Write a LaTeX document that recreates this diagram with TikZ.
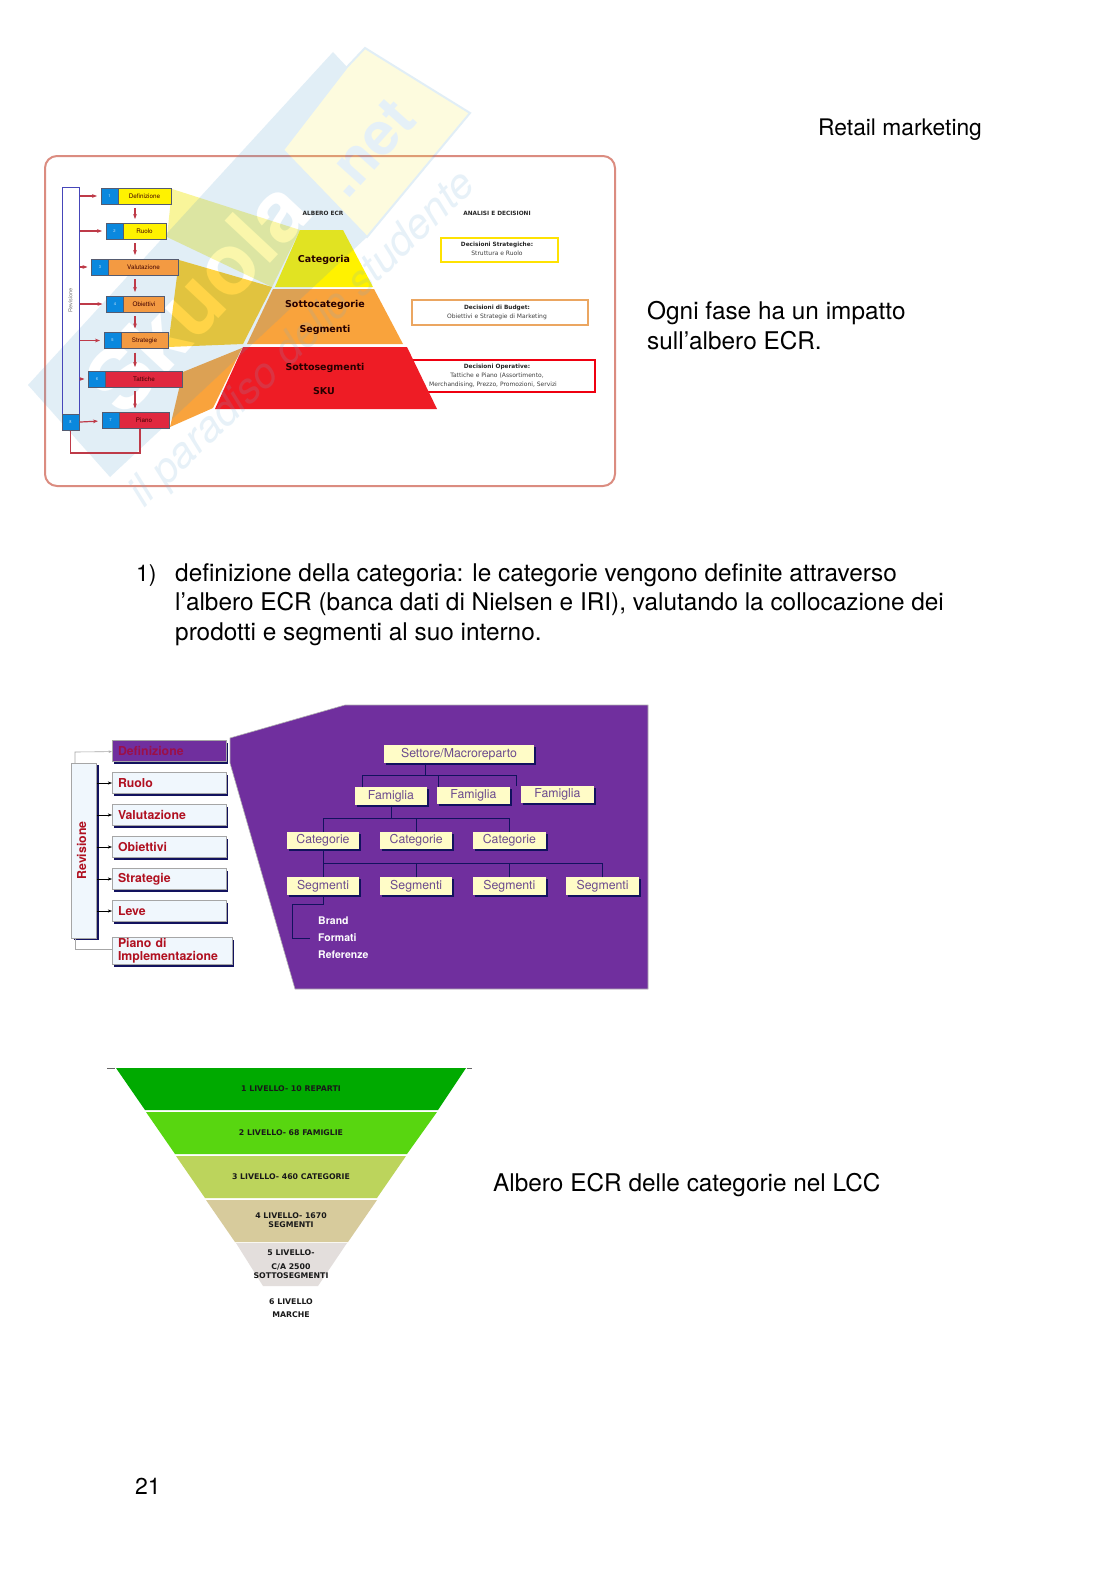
\documentclass[tikz,border=0pt]{standalone}
\usepackage{fontspec}
\usepackage{xcolor}
\usepackage{tikz}
\usetikzlibrary{positioning,arrows.meta,shadows}
\setmainfont{TeX Gyre Heros}
\newfontfamily\vrd{DejaVu Sans}
\definecolor{wmblue}{HTML}{4F9BCE}
\definecolor{wmyellow}{HTML}{F5EB3C}
\definecolor{framered}{HTML}{DB8C80}
\definecolor{stepblue}{HTML}{0A88DE}
\definecolor{stepline}{HTML}{555B70}
\definecolor{arrowred}{HTML}{BE3A48}
\definecolor{bandyellow}{HTML}{F9F59A}
\definecolor{bandgold}{HTML}{FFCC22}
\definecolor{catyellow}{HTML}{FFF200}
\definecolor{catorange}{HTML}{F9A33C}
\definecolor{catred}{HTML}{EE1C25}
\definecolor{steporange}{HTML}{F39A42}
\definecolor{stepred}{HTML}{E0283F}
\definecolor{purplebg}{HTML}{702F9E}
\definecolor{navyline}{HTML}{12125E}
\definecolor{labelred}{HTML}{B01020}
\definecolor{deflabel}{HTML}{9C1048}
\definecolor{treetext}{HTML}{6B4A8E}
\definecolor{boxpale}{HTML}{F0F7FD}
\definecolor{levela}{HTML}{00AA00}
\definecolor{levelb}{HTML}{58D610}
\definecolor{levelc}{HTML}{BCD45C}
\definecolor{leveld}{HTML}{D7CB9C}
\definecolor{levele}{HTML}{E3DEDC}

\begin{document}
\begin{tikzpicture}[
    x=1pt, y=-1pt,
    bodytext/.style={anchor=base west, inner sep=0pt, font=\fontsize{24.37}{29}\selectfont},
    stepnum/.style={rectangle, draw=stepline, line width=0.5pt, fill=stepblue, text=white!80!stepblue, outer sep=0pt, inner sep=0pt, minimum width=17pt, minimum height=16pt, font=\fontsize{4}{5}\selectfont},
    steplab/.style={rectangle, draw=stepline, line width=0.8pt, outer sep=0pt, inner sep=0pt, minimum height=16pt, text=black!75!red, font=\fontsize{6.3}{7}\selectfont},
    deci/.style={rectangle, line width=1.3pt, inner sep=0pt, fill=white},
    decitext/.style={inner sep=0pt, text=black!75, font=\vrd\fontsize{6}{7}\selectfont},
    decihead/.style={inner sep=0pt, text=black!85, font=\vrd\bfseries\fontsize{5.8}{7}\selectfont},
    pyrtext/.style={inner sep=0pt, text=black!85!red, font=\vrd\bfseries\fontsize{9.5}{11}\selectfont},
    redarrow/.style={-{Stealth[scale=0.6]}, arrowred, line width=1.2pt, shorten <=0.5pt, shorten >=4pt},
    downarrow/.style={-{Stealth[scale=0.6]}, arrowred, line width=1.2pt, shorten <=4pt, shorten >=4pt},
    phasebox/.style={rectangle, draw=black!35, line width=0.4pt, fill=boxpale, outer sep=0pt, inner sep=0pt, minimum width=114pt, minimum height=21pt, text width=102pt, align=left, text=labelred, font=\bfseries\fontsize{12.3}{13}\selectfont, drop shadow={shadow xshift=2pt, shadow yshift=-2pt, fill=navyline, opacity=1}},
    treebox/.style={rectangle, fill=yellow!22, outer sep=0pt, inner sep=0pt, minimum width=72.5pt, minimum height=17.5pt, text=treetext, font=\fontsize{12.3}{13}\selectfont, drop shadow={shadow xshift=2pt, shadow yshift=-2pt, fill=navyline, opacity=1}},
    treeline/.style={navyline, line width=0.6pt},
    phasearrow/.style={-{Stealth[scale=0.8]}, black, line width=0.5pt},
    subtext/.style={anchor=west, inner sep=0pt, text=white, font=\bfseries\fontsize{10.5}{11}\selectfont},
    leveltext/.style={inner sep=0pt, text=black!90, align=center, font=\vrd\bfseries\fontsize{7.8}{9.2}\selectfont}
]
\useasboundingbox (0,0) rectangle (1116,1579);
\fill[white] (0,0) rectangle (1116,1579);

% Page text
\node[bodytext, font=\fontsize{22.8}{29}\selectfont] (header) at (818,135) {Retail marketing};
\node[bodytext] (impact1) at (647,319) {Ogni fase ha un impatto};
\node[bodytext] (impact2) at (647,349) {sull’albero ECR.};
\node[bodytext, font=\fontsize{23}{29}\selectfont] (num) at (136,581) {1)};
\node[bodytext] (para1) at (175,581) {definizione della categoria: le categorie vengono definite attraverso};
\node[bodytext] (para2) at (175,610) {l’albero ECR (banca dati di Nielsen e IRI), valutando la collocazione dei};
\node[bodytext] (para3) at (175,640) {prodotti e segmenti al suo interno.};
\node[bodytext] (lcc) at (493,1191) {Albero ECR delle categorie nel LCC};
\node[bodytext, font=\fontsize{23}{29}\selectfont] (page) at (135,1494) {21};

% First figure: frame
\draw[framered, line width=2pt, rounded corners=12pt] (45,156) rectangle (615,486);

% Bands towards the pyramid
\fill[bandyellow] (172,189) -- (300,230) -- (272,287) -- (167,237) -- cycle;
\fill[bandgold] (179,260) -- (272,287) -- (243,344) -- (168,347) -- cycle;
\fill[catorange] (183,372) -- (242,348) -- (213,408) -- (170,427) -- cycle;

% Decisions
\node[deci, draw=yellow!85!orange, minimum width=117pt, minimum height=24pt] (d1) at (499.5,250) {};
\node[deci, draw=orange!55!brown!70, minimum width=176pt, minimum height=25pt] (d2) at (500,312.5) {};
\node[deci, draw=red!75!purple, minimum width=183pt, minimum height=32pt] (d3) at (503.5,376) {};

% Pyramid
\fill[catyellow] (300,230) -- (343,230) -- (373,287) -- (275,287) -- cycle;
\fill[catorange] (273,289) -- (374,289) -- (403,344) -- (247,344) -- cycle;
\fill[catred] (243,347) -- (407,347) -- (437,409) -- (215,409) -- cycle;

% Watermark
\begin{scope}[transparency group, opacity=0.17]
\fill[wmblue] (333,52) -- (28,385) -- (110,477) -- (367,237) -- (283,150) -- (347,67) -- cycle;
\node[inner sep=0pt, rotate=47, text=white, font=\bfseries\fontsize{85}{85}\selectfont] (wmname) at (197,296) {Skuola};
\fill[wmyellow, draw=wmblue, line width=2pt] (347,67) -- (365,48) -- (470,113) -- (367,237) -- (283,150) -- cycle;
\node[inner sep=0pt, rotate=48, text=wmblue!85!white, font=\bfseries\fontsize{60}{60}\selectfont] (wmnet) at (368,148) {.net};
\node[inner sep=0pt, rotate=44, text=wmblue!80!white, font=\itshape\fontsize{42}{42}\selectfont] (wmline) at (303,340) {il paradiso dello studente};
\end{scope}

% Phases
\node[rectangle, rotate=90, draw=blue!45!gray, line width=0.8pt, minimum width=227pt, minimum height=17pt, inner sep=0pt, outer sep=0pt, text=black!55, font=\fontsize{5.5}{6}\selectfont] (rev) at (70.5,300.5) {Revisione};
\node[stepnum] (n1) at (109.5,196) {1};
\node[steplab, fill=yellow, minimum width=53pt, right=0pt of n1] (s1) {Definizione};
\node[stepnum] (n2) at (114.5,231) {2};
\node[steplab, fill=yellow, minimum width=43pt, right=0pt of n2] (s2) {Ruolo};
\node[stepnum] (n3) at (100,267) {3};
\node[steplab, fill=steporange, minimum width=70pt, right=0pt of n3] (s3) {Valutazione};
\node[stepnum] (n4) at (115,304) {4};
\node[steplab, fill=steporange, minimum width=41pt, right=0pt of n4] (s4) {Obiettivi};
\node[stepnum] (n5) at (112.5,340.5) {5};
\node[steplab, fill=steporange, minimum width=47pt, right=0pt of n5] (s5) {Strategie};
\node[stepnum] (n6) at (97,379) {6};
\node[steplab, fill=stepred, minimum width=77pt, right=0pt of n6] (s6) {Tattiche};
\node[stepnum] (n7) at (110.5,420.5) {7};
\node[steplab, fill=stepred, minimum width=50pt, right=0pt of n7] (s7) {Piano};
\node[stepnum] (n8) at (70.5,422.5) {8};

\draw[redarrow] (rev.south |- n1) -- (n1);
\draw[redarrow] (rev.south |- n2) -- (n2);
\draw[redarrow] (rev.south |- n3) -- (n3);
\draw[redarrow] (rev.south |- n4) -- (n4);
\draw[redarrow] (rev.south |- n5) -- (n5);
\draw[redarrow] (rev.south |- n6) -- (n6);
\draw[redarrow] (n8) -- (n7);

\coordinate (dwn) at (135,300);
\draw[downarrow] (s1.south -| dwn) -- (s2.north -| dwn);
\draw[downarrow] (s2.south -| dwn) -- (s3.north -| dwn);
\draw[downarrow] (s3.south -| dwn) -- (s4.north -| dwn);
\draw[downarrow] (s4.south -| dwn) -- (s5.north -| dwn);
\draw[downarrow] (s5.south -| dwn) -- (s6.north -| dwn);
\draw[downarrow] (s6.south -| dwn) -- (s7.north -| dwn);

\coordinate (loop) at (140,453);
\draw[arrowred, line width=1.2pt] (n8.south) |- (loop) -- (loop |- s7.south);

% Labels of the first figure
\node[decihead] (tree) at (323,213) {ALBERO ECR};
\node[decihead] (analysis) at (497,213) {ANALISI E DECISIONI};
\node[pyrtext] (categoria) at (324,259.5) {Categoria};
\node[pyrtext] (sottocat) at (325,305) {Sottocategorie};
\node[pyrtext] (segm) at (325,330) {Segmenti};
\node[pyrtext] (sottoseg) at (325,367.5) {Sottosegmenti};
\node[pyrtext] (sku) at (324,391) {SKU};
\node[decihead] (d1a) at (497,245) {Decisioni Strategiche:};
\node[decitext] (d1b) at (497,253.5) {Struttura e Ruolo};
\node[decihead] (d2a) at (497,308) {Decisioni di Budget:};
\node[decitext] (d2b) at (497,316.5) {Obiettivi e Strategie di Marketing};
\node[decihead] (d3a) at (497,367) {Decisioni Operative:};
\node[decitext] (d3b) at (497,376) {Tattiche e Piano (Assortimento,};
\node[decitext] (d3c) at (493,384.5) {Merchandising, Prezzo, Promozioni, Servizi};

% Second figure
\fill[purplebg, draw=black!30, line width=0.6pt] (230,738) -- (345,705) -- (648,705) -- (648,989) -- (295,989) -- (230,763) -- cycle;

\node[rectangle, rotate=90, draw=black!35, line width=0.4pt, fill=boxpale, minimum width=175pt, minimum height=25pt, inner sep=0pt, outer sep=0pt, text=labelred, font=\bfseries\fontsize{12.3}{13}\selectfont, drop shadow={shadow xshift=2pt, shadow yshift=-2pt, fill=navyline, opacity=1}] (revb) at (84,850.5) {\raisebox{5pt}{Revisione}};
\node[phasebox, fill=purplebg, text=deflabel] (fdef) at (169,751) {Definizione};
\node[phasebox, below=11pt of fdef] (fruo) {Ruolo};
\node[phasebox, below=11pt of fruo] (fval) {Valutazione};
\node[phasebox, below=11pt of fval] (fobi) {Obiettivi};
\node[phasebox, below=11pt of fobi] (fstr) {Strategie};
\node[phasebox, below=11pt of fstr] (flev) {Leve};
\node[phasebox, minimum width=120pt, minimum height=27pt, text width=108pt] (fpia) at (172,951) {Piano di\\Implementazione};

\draw[phasearrow] (revb.south |- fruo) -- (fruo);
\draw[phasearrow] (revb.south |- fval) -- (fval);
\draw[phasearrow] (revb.south |- fobi) -- (fobi);
\draw[phasearrow] (revb.south |- fstr) -- (fstr);
\draw[phasearrow] (revb.south |- flev) -- (flev);
\coordinate (revtop) at (75,752);
\draw[-{Stealth[scale=0.6]}, black!35, line width=0.6pt] (revtop |- revb.east) -- (revtop) -- (fdef);
\coordinate (revbot) at (75,949);
\draw[black!35, line width=0.6pt] (revbot |- revb.west) -- (revbot) -- (revbot -| fpia.west);

% Tree
\coordinate (busf) at (425,775);
\coordinate (busc) at (391,818);
\coordinate (busg) at (323,863);
\coordinate (brk) at (292,904);

\node[treebox, minimum width=150pt] (settore) at (459,754) {Settore/Macroreparto};
\node[treebox] (fam1) at (391,796) {Famiglia};
\node[treebox] (fam2) at (473.5,795.5) {Famiglia};
\node[treebox] (fam3) at (557.5,794.5) {Famiglia};
\node[treebox] (cat1) at (323,840.5) {Categorie};
\node[treebox, right=20.7pt of cat1] (cat2) {Categorie};
\node[treebox, right=20.7pt of cat2] (cat3) {Categorie};
\node[treebox] (seg1) at (323,886) {Segmenti};
\node[treebox, right=20.7pt of seg1] (seg2) {Segmenti};
\node[treebox, right=20.7pt of seg2] (seg3) {Segmenti};
\node[treebox, right=20.7pt of seg3] (seg4) {Segmenti};
\node[subtext] (brand) at (318,921) {Brand};
\node[subtext] (formati) at (318,938) {Formati};
\node[subtext] (referenze) at (318,955) {Referenze};

\draw[treeline] (settore.south -| busf) -- (busf);
\draw[treeline] ([xshift=-28.5pt]fam1.north) |- (busf);
\draw[treeline] ([xshift=-35.5pt]fam2.north) |- (busf);
\draw[treeline] ([xshift=-41.5pt]fam3.north) |- (busf);
\draw[treeline] (fam1.south) -- (busc);
\draw[treeline] (cat1.north) |- (busc);
\draw[treeline] (cat2.north) |- (busc);
\draw[treeline] (cat3.north) |- (busc);
\draw[treeline] (cat1.south) -- (seg1.north);
\draw[treeline] (seg2.north) |- (busg);
\draw[treeline] (seg3.north) |- (busg);
\draw[treeline] (seg4.north) |- (busg);
\draw[treeline, shorten >=8pt] (seg1.south) |- (brk) |- (formati.west);

% Third figure
\fill[levela] (116,1068) -- (466,1068) -- (438,1110) -- (145,1110) -- cycle;
\fill[levelb] (146,1112) -- (437,1112) -- (407,1154) -- (175,1154) -- cycle;
\fill[levelc] (176,1156) -- (406,1156) -- (377,1198) -- (205,1198) -- cycle;
\fill[leveld] (206,1200) -- (377,1200) -- (348,1242) -- (235,1242) -- cycle;
\fill[levele] (236,1243) -- (347,1243) -- (318,1286) -- (263,1286) -- cycle;
\draw[black!60, line width=0.4pt] (107,1068) -- (115,1068) (467,1068) -- (472,1068);

\node[leveltext] (lev1) at (291,1089) {1 LIVELLO- 10 REPARTI};
\node[leveltext] (lev2) at (291,1133) {2 LIVELLO- 68 FAMIGLIE};
\node[leveltext] (lev3) at (291,1177) {3 LIVELLO- 460 CATEGORIE};
\node[leveltext] (lev4) at (291,1220.5) {4 LIVELLO- 1670\\SEGMENTI};
\node[leveltext] (lev5a) at (291,1253) {5 LIVELLO-};
\node[leveltext] (lev5b) at (291,1271) {C/A 2500\\SOTTOSEGMENTI};
\node[leveltext] (lev6a) at (291,1302) {6 LIVELLO};
\node[leveltext] (lev6b) at (291,1315) {MARCHE};
\end{tikzpicture}
\end{document}
